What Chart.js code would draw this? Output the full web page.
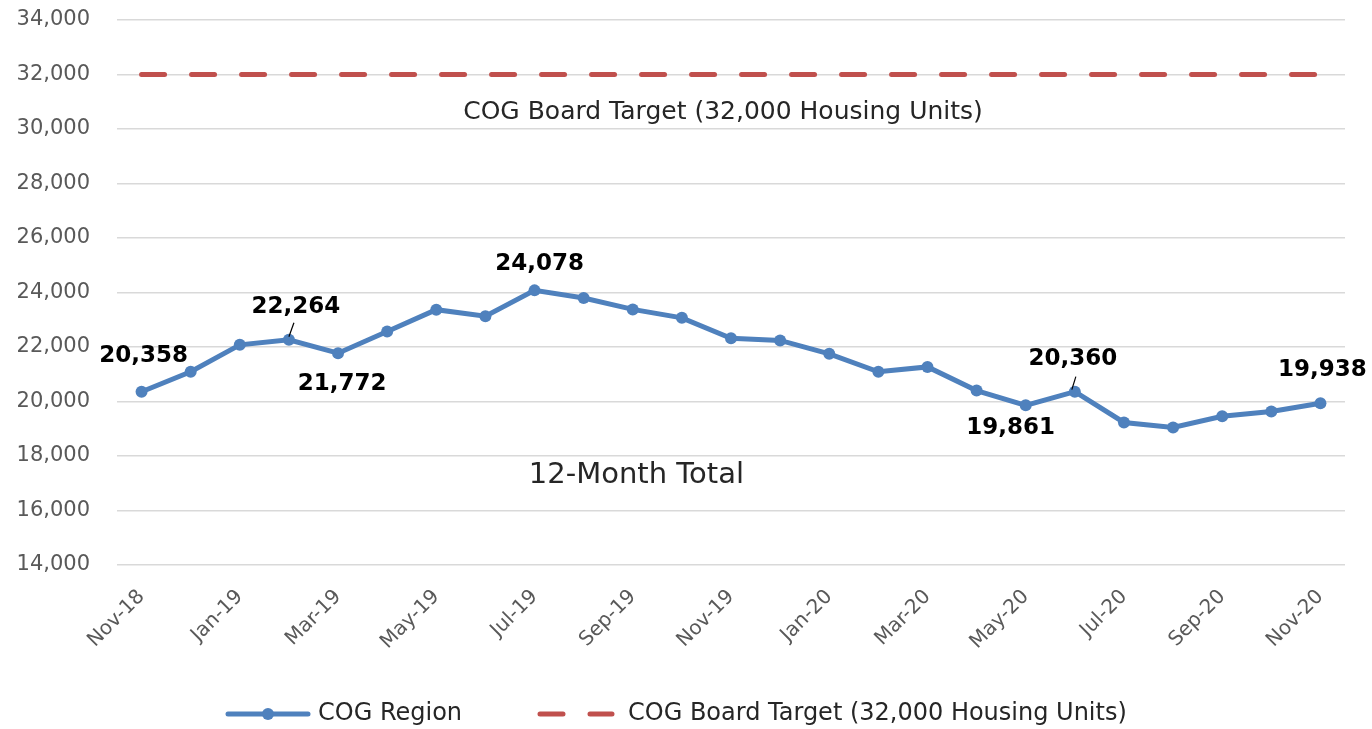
<!DOCTYPE html>
<html>
<head>
<meta charset="utf-8">
<script src="https://cdn.jsdelivr.net/npm/chart.js@4.4.1/dist/chart.umd.min.js"></script>
<style>
  html, body { margin: 0; padding: 0; background: #fff; }
  #wrap { width: 1372px; height: 729px; }
</style>
</head>
<body>
<div id="wrap"><canvas id="chart" width="1372" height="729"></canvas></div>
<script>
// 12-month totals, COG region vs board target

const months = ['Nov-18', 'Dec-18', 'Jan-19', 'Feb-19', 'Mar-19', 'Apr-19', 'May-19', 'Jun-19', 'Jul-19',
  'Aug-19', 'Sep-19', 'Oct-19', 'Nov-19', 'Dec-19', 'Jan-20', 'Feb-20', 'Mar-20', 'Apr-20', 'May-20',
  'Jun-20', 'Jul-20', 'Aug-20', 'Sep-20', 'Oct-20', 'Nov-20'];

const shownMonths = ['Nov-18', 'Jan-19', 'Mar-19', 'May-19', 'Jul-19', 'Sep-19', 'Nov-19',
  'Jan-20', 'Mar-20', 'May-20', 'Jul-20', 'Sep-20', 'Nov-20'];

const cogRegion = [20358, 21090, 22080, 22264, 21772, 22570, 23370, 23130, 24078,
  23800, 23380, 23070, 22320, 22240, 21750, 21090, 21270, 20400, 19861,
  20360, 19230, 19050, 19460, 19630, 19938];

const boardTarget = [32000, 32000, 32000, 32000, 32000, 32000, 32000, 32000, 32000,
  32000, 32000, 32000, 32000, 32000, 32000, 32000, 32000, 32000, 32000,
  32000, 32000, 32000, 32000, 32000, 32000];

const yMin = 14000, yMax = 34000, yStep = 2000;

// which points get a value label
const labelledPoints = [0, 3, 4, 8, 18, 19, 24];

const BLUE = '#4f81bd';
const RED = '#c0504d';
const FONT = '"DejaVu Sans", sans-serif';

// label placement relative to the point (px), plus optional leader line
const labelPlacement = {
  0: { dx: 2, dy: -36 },
  3: { dx: 7, dy: -33, leader: [0, -3, 5, -17] },
  4: { dx: 4, dy: 31 },
  8: { dx: 5, dy: -26 },
  18: { dx: -15, dy: 23 },
  19: { dx: -2, dy: -33, leader: [-3, -2, 1, -15] },
  24: { dx: 2, dy: -33 }
};

const fmt = v => v.toLocaleString('en-US');

const extrasPlugin = {
  id: 'extras',
  afterDatasetsDraw(chart) {
    const ctx = chart.ctx;
    const area = chart.chartArea;
    const y = chart.scales.y;

    ctx.save();
    // in-plot captions
    ctx.fillStyle = '#262626';
    ctx.textAlign = 'center';
    ctx.textBaseline = 'middle';
    ctx.font = '25px ' + FONT;
    ctx.fillText('COG Board Target (32,000 Housing Units)',
      area.left + (area.right - area.left) * 0.4935, y.getPixelForValue(30600));
    ctx.font = '29px ' + FONT;
    ctx.fillText('12-Month Total',
      area.left + (area.right - area.left) * 0.423, y.getPixelForValue(17300));

    // value labels
    const meta = chart.getDatasetMeta(0);
    ctx.font = 'bold 23px ' + FONT;
    ctx.fillStyle = '#000';
    labelledPoints.forEach(i => {
      const pt = meta.data[i];
      const p = labelPlacement[i];
      if (p.leader) {
        ctx.strokeStyle = '#000';
        ctx.lineWidth = 1.2;
        ctx.beginPath();
        ctx.moveTo(pt.x + p.leader[0], pt.y + p.leader[1]);
        ctx.lineTo(pt.x + p.leader[2], pt.y + p.leader[3]);
        ctx.stroke();
      }
      ctx.fillText(fmt(cogRegion[i]), pt.x + p.dx, pt.y + p.dy);
    });
    ctx.restore();
  },
  afterDraw(chart) {
    // legend at the bottom
    const ctx = chart.ctx;
    const ly = 714;
    const ds = chart.data.datasets;
    ctx.save();
    ctx.lineCap = 'round';
    ctx.strokeStyle = ds[0].borderColor;
    ctx.lineWidth = 5;
    ctx.beginPath();
    ctx.moveTo(228, ly);
    ctx.lineTo(308, ly);
    ctx.stroke();
    ctx.fillStyle = ds[0].borderColor;
    ctx.beginPath();
    ctx.arc(268, ly, 6, 0, Math.PI * 2);
    ctx.fill();

    ctx.strokeStyle = ds[1].borderColor;
    ctx.setLineDash([23, 27]);
    ctx.beginPath();
    ctx.moveTo(540, ly);
    ctx.lineTo(612, ly);
    ctx.stroke();
    ctx.setLineDash([]);

    ctx.fillStyle = '#262626';
    ctx.font = '24px ' + FONT;
    ctx.textAlign = 'left';
    ctx.textBaseline = 'middle';
    ctx.fillText(ds[0].label, 318, ly);
    ctx.fillText(ds[1].label, 628, ly);
    ctx.restore();
  }
};

new Chart(document.getElementById('chart').getContext('2d'), {
  type: 'line',
  data: {
    labels: months,
    datasets: [
      {
        label: 'COG Region',
        data: cogRegion,
        borderColor: BLUE,
        backgroundColor: BLUE,
        borderWidth: 5,
        pointRadius: 6,
        pointBorderWidth: 0,
        pointBackgroundColor: BLUE,
        tension: 0
      },
      {
        label: 'COG Board Target (32,000 Housing Units)',
        data: boardTarget,
        borderColor: RED,
        backgroundColor: RED,
        borderWidth: 5,
        borderDash: [23, 27],
        borderCapStyle: 'round',
        pointRadius: 0
      }
    ]
  },
  options: {
    responsive: false,
    animation: false,
    events: [],
    layout: { padding: { top: 20, right: 27, left: 0, bottom: 0 } },
    plugins: { legend: { display: false }, tooltip: { enabled: false } },
    scales: {
      x: {
        offset: true,
        grid: { display: false },
        border: { display: false },
        afterFit: s => { s.height = 164; s.paddingTop = 0; },
        ticks: {
          autoSkip: false,
          maxRotation: 45,
          minRotation: 45,
          padding: 12,
          color: '#595959',
          font: { family: FONT, size: 20 },
          callback: (v, i) => shownMonths.includes(months[i]) ? months[i] : ''
        }
      },
      y: {
        min: yMin,
        max: yMax,
        afterFit: s => { s.width = 117; s.paddingTop = 0; },
        grid: { color: '#d9d9d9', lineWidth: 1.5, drawTicks: false },
        border: { display: false },
        ticks: {
          stepSize: yStep,
          padding: 27,
          color: '#595959',
          font: { family: FONT, size: 21 },
          callback: v => fmt(v)
        }
      }
    }
  },
  plugins: [extrasPlugin]
});
</script>
</body>
</html>
